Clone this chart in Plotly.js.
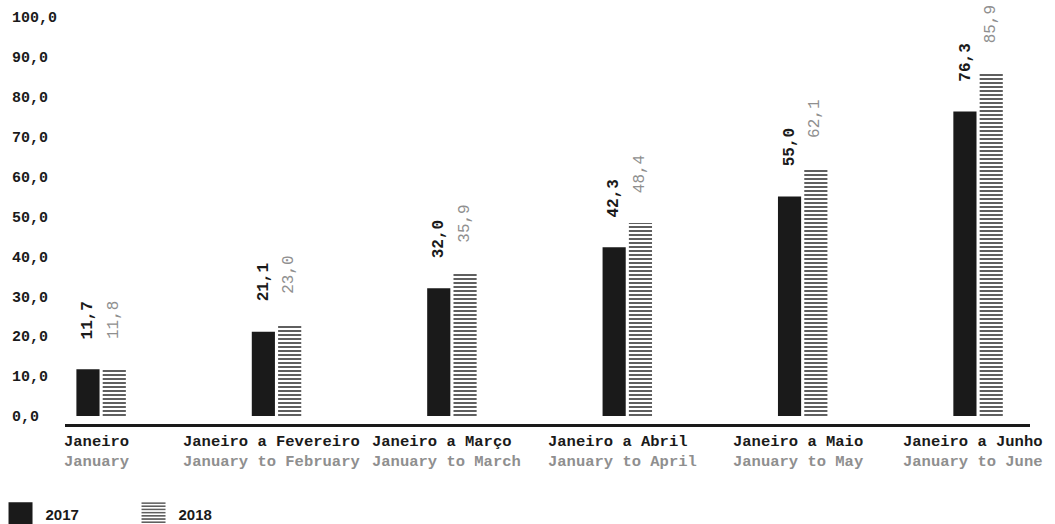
<!DOCTYPE html>
<html>
<head>
<meta charset="utf-8">
<script src="https://cdn.plot.ly/plotly-3.0.1.min.js"></script>
<style>
  html, body { margin: 0; padding: 0; background: #ffffff; }
  #chart { width: 1055px; height: 524px; }
</style>
</head>
<body>
<div id="chart"></div>
<script>
// Cumulative periods (Portuguese / English)
const periodsPt = ['Janeiro', 'Janeiro a Fevereiro', 'Janeiro a Março', 'Janeiro a Abril', 'Janeiro a Maio', 'Janeiro a Junho'];
const periodsEn = ['January', 'January to February', 'January to March', 'January to April', 'January to May', 'January to June'];

// Series values
const values2017 = [11.7, 21.1, 32.0, 42.3, 55.0, 76.3];
const values2018 = [11.8, 23.0, 35.9, 48.4, 62.1, 85.9];

// Y axis ticks
const yTicks = [0, 10, 20, 30, 40, 50, 60, 70, 80, 90, 100];

const INK = '#1a1a1a';
const GREY = '#8f8f8f';
const MONO = '"Liberation Mono", "Courier New", monospace';
const SANS = '"Liberation Sans", Arial, sans-serif';

const fmt = v => v.toFixed(1).replace('.', ',');
const xs = periodsPt.map((_, i) => i);

// pad tick labels so they line up on the left (monospace)
const tickWidth = Math.max(...yTicks.map(v => fmt(v).length));
const yTickText = yTicks.map(v => {
  const s = fmt(v);
  return '<b>' + s + '\u00a0'.repeat(tickWidth - s.length) + '</b>';
});

const traces = [
  {
    type: 'bar', name: '2017', x: xs, y: values2017,
    marker: { color: INK, line: { width: 0 } },
    hoverinfo: 'skip'
  },
  {
    type: 'bar', name: '2018', x: xs, y: values2018,
    marker: {
      color: '#ffffff',
      line: { width: 0 },
      pattern: { shape: '-', fgcolor: INK, bgcolor: '#ffffff', size: 4, solidity: 0.35 }
    },
    hoverinfo: 'skip'
  }
];

const annotations = [];
// value labels above each bar
values2017.forEach((v, i) => annotations.push({
  x: i, y: v, xref: 'x', yref: 'y', xshift: -13, yshift: 28,
  text: '<b>' + fmt(v) + '</b>', showarrow: false, textangle: -90,
  xanchor: 'center', yanchor: 'bottom',
  font: { family: MONO, size: 16, color: INK }
}));
values2018.forEach((v, i) => annotations.push({
  x: i, y: v, xref: 'x', yref: 'y', xshift: 13, yshift: 28,
  text: fmt(v), showarrow: false, textangle: -90,
  xanchor: 'center', yanchor: 'bottom',
  font: { family: MONO, size: 16, color: GREY }
}));
// bilingual category labels under the axis
periodsPt.forEach((pt, i) => annotations.push({
  x: i, y: 0, xref: 'x', yref: 'paper', xshift: -5, yshift: -7,
  text: '<b>' + pt + '</b><br><span style="color:' + GREY + '"><b>' + periodsEn[i] + '</b></span>',
  showarrow: false, align: 'left', xanchor: 'center', yanchor: 'top',
  font: { family: MONO, size: 15.5, color: INK }
}));

const layout = {
  width: 1055, height: 524,
  margin: { l: 65, r: 25, t: 13, b: 100, pad: 0, autoexpand: false },
  paper_bgcolor: '#ffffff', plot_bgcolor: '#ffffff',
  barmode: 'group', bargap: 0.70, bargroupgap: 0.12,
  hovermode: false,
  xaxis: {
    type: 'linear', range: [-0.206, 5.296],
    showticklabels: false, ticks: '', showgrid: false, zeroline: false,
    showline: true, linecolor: INK, linewidth: 3, fixedrange: true
  },
  yaxis: {
    range: [-2, 101], tickvals: yTicks, ticktext: yTickText,
    ticks: '', showgrid: false, zeroline: false, showline: false,
    tickfont: { family: MONO, size: 15, color: INK },
    ticklabelstandoff: 7, fixedrange: true
  },
  showlegend: true,
  legend: {
    orientation: 'h', x: -0.072, xanchor: 'left', y: -0.18, yanchor: 'top',
    font: { family: SANS, size: 15, color: INK, weight: 'bold' },
    itemwidth: 40, entrywidth: 78, entrywidthmode: 'pixels',
    tracegroupgap: 0, bgcolor: 'rgba(0,0,0,0)'
  },
  annotations: annotations
};

Plotly.newPlot('chart', traces, layout, { displayModeBar: false, staticPlot: true }).then(gd => {
  // enlarge the legend swatches
  gd.querySelectorAll('.legend .legendpoints path').forEach(p => {
    p.setAttribute('d', 'M12,12H-12V-12H12Z');
  });
});
</script>
</body>
</html>
